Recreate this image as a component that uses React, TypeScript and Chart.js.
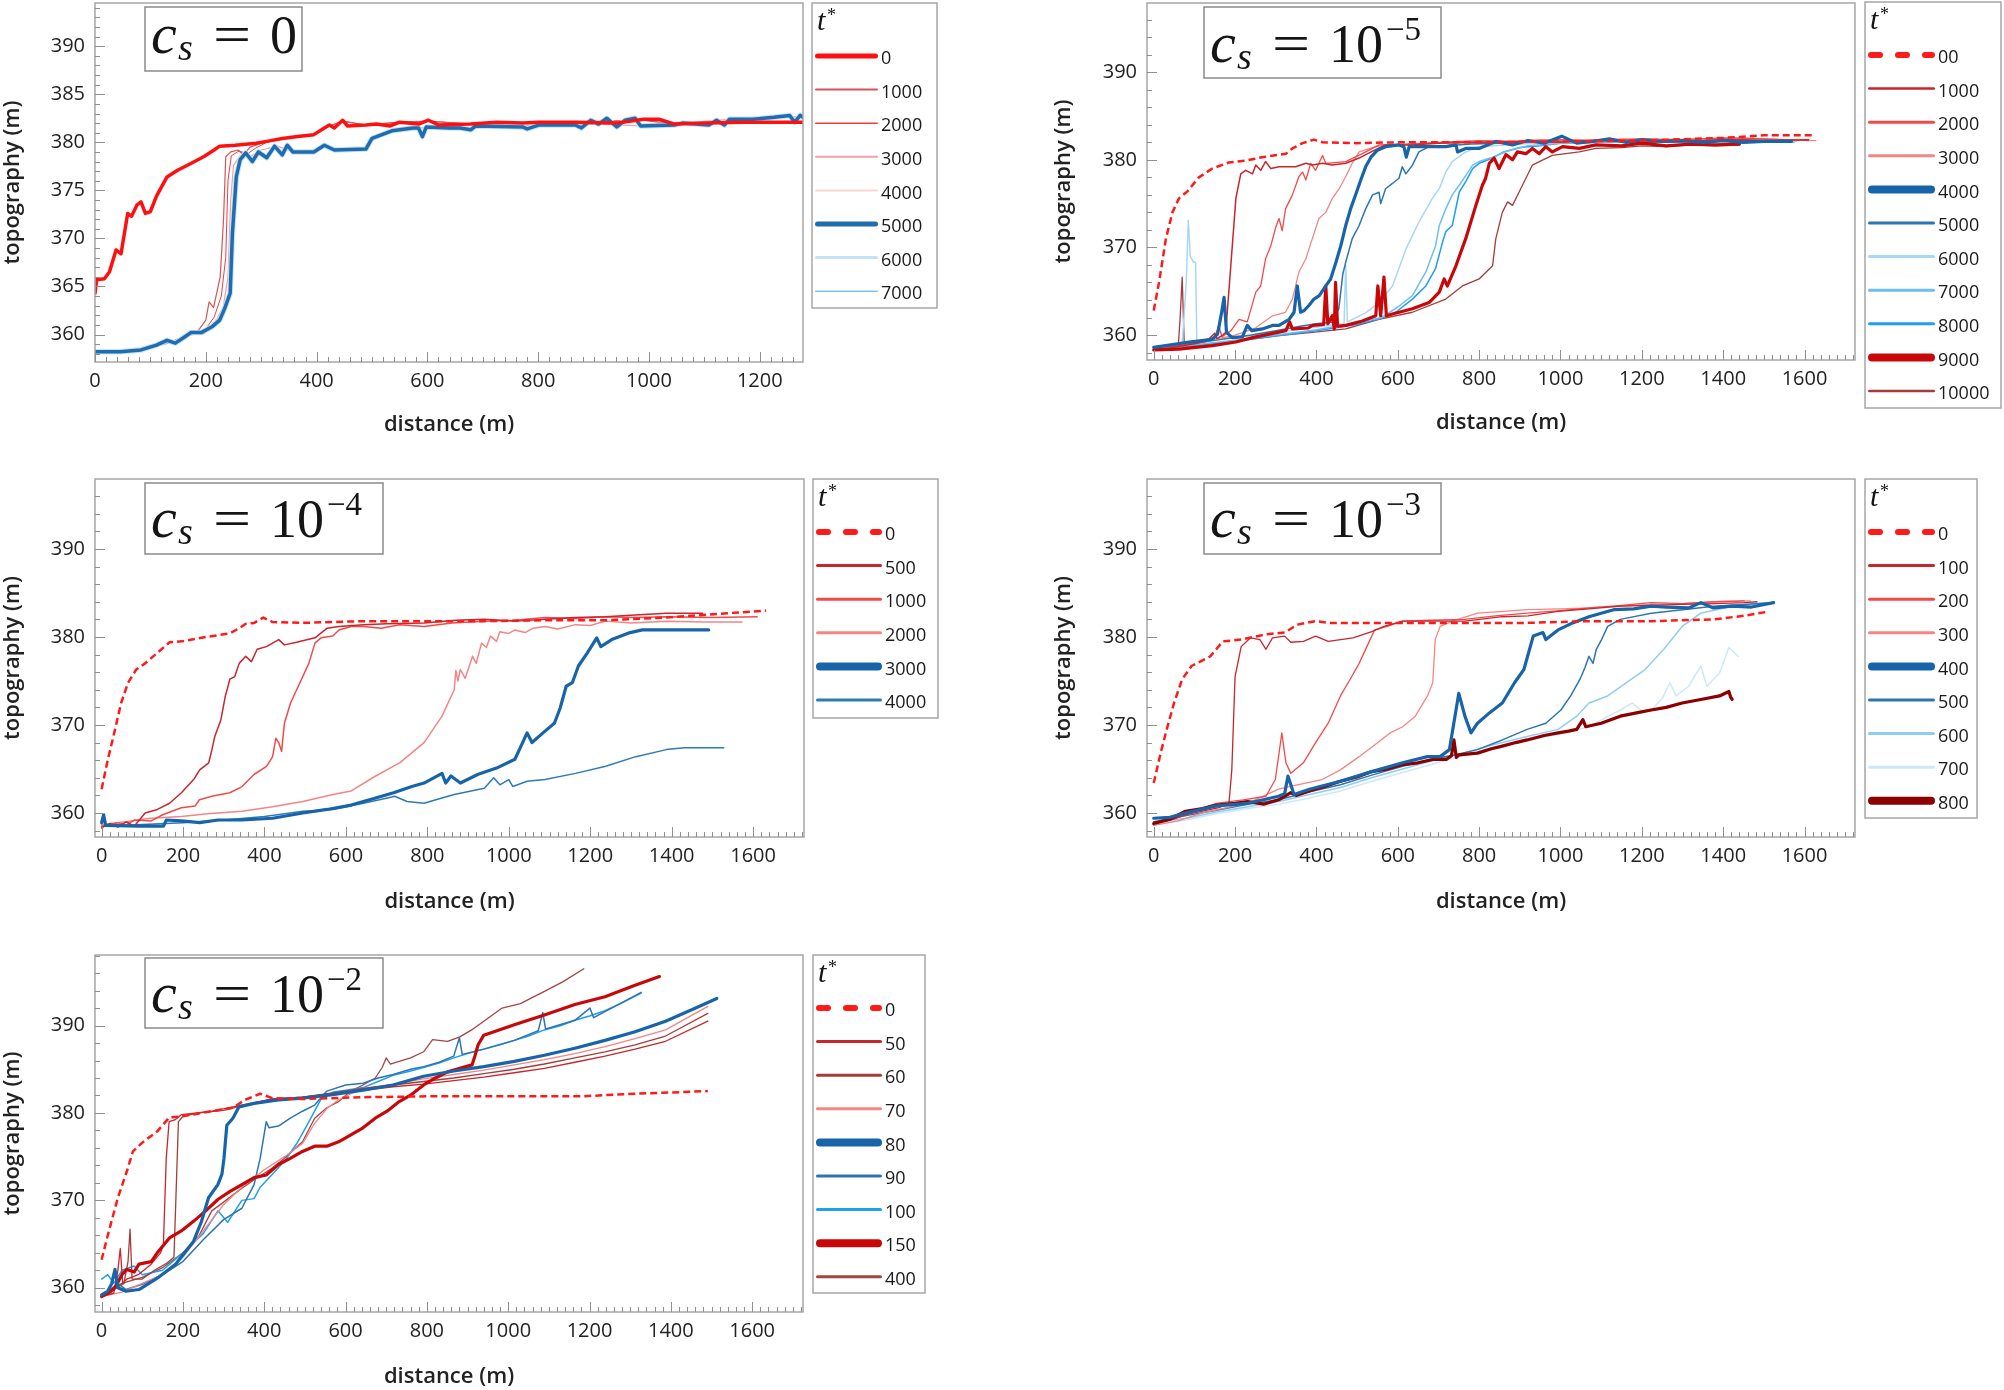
import React, { useEffect, useRef } from "react";
import { Chart, registerables } from "chart.js";

Chart.register(...registerables);

type Pt = [number, number];

// tick values
const xTicksP1 = [0, 200, 400, 600, 800, 1000, 1200];
const yTicksP1 = [360, 365, 370, 375, 380, 385, 390];
const xTicks = [0, 200, 400, 600, 800, 1000, 1200, 1400, 1600];
const yTicks = [360, 370, 380, 390];

// ---- c_s = 0 ----
const p1_t0: Pt[] = [[0,364.3],[3,365.7],[17,365.8],[26,366.5],[38,368.8],[47,368.4],[59,372.6],[66,372.3],[76,373.5],[83,373.8],[91,372.6],[100,372.8],[111,374.4],[130,376.4],[149,377.1],[173,377.8],[196,378.5],[215,379.2],[225,379.6],[253,379.7],[291,379.9],[310,380.1],[338,380.4],[366,380.6],[395,380.8],[414,381.5],[423,381.8],[432,381.5],[447,382.3],[456,381.7],[489,381.8],[508,381.9],[532,381.7],[550,382.1],[584,381.9],[602,382.3],[621,381.8],[678,381.9],[725,382.1],[772,382.0],[801,382.1],[867,382.1],[942,382.0],[990,382.4],[1018,382.4],[1046,381.9],[1103,382.0],[1170,382.1],[1278,382.1]];
const p1_t1000: Pt[] = [[0,358.2],[60,358.3],[110,358.8],[140,359.3],[160,359.8],[185,360.3],[200,361.5],[206,363.4],[214,362.8],[226,366],[232,372],[236,378.5],[245,379],[258,379.2],[268,378.7],[280,379.5],[300,379.9],[338,380.4],[366,380.6],[395,380.8],[414,381.5],[447,382.2],[489,381.8],[550,382.1],[602,382.2],[678,381.9],[772,382],[867,382.1],[990,382.3],[1046,381.9],[1170,382.1],[1278,382.1]];
const p1_t2000: Pt[] = [[0,358.2],[80,358.4],[120,359],[150,359.4],[175,360.1],[200,360.6],[215,361.8],[228,364],[236,368],[240,376],[246,378.6],[260,379.1],[275,378.8],[290,379.4],[310,380],[338,380.4],[366,380.6],[395,380.8],[414,381.5],[447,382.2],[489,381.8],[550,382.1],[602,382.2],[678,381.9],[772,382],[867,382.1],[990,382.3],[1046,381.9],[1170,382.1],[1278,382.1]];
const p1_t3000: Pt[] = [[0,358.2],[100,358.6],[140,359.2],[160,359.7],[200,360.4],[220,361.6],[232,363],[240,366],[245,374],[250,377.6],[262,378.6],[280,378.5],[300,379.2],[330,379.6],[357,379],[395,379],[414,379.7],[432,379.2],[489,379.3],[500,380.4],[536,381.2],[584,381.5],[640,381.5],[700,381.6],[801,381.8],[909,381.9],[985,381.7],[1060,382],[1145,382.4],[1226,382.6],[1278,382.7]];
const p1_t5000: Pt[] = [[0,358.2],[45,358.2],[83,358.4],[111,358.9],[130,359.4],[145,359.1],[163,359.8],[173,360.2],[192,360.2],[211,360.8],[225,361.5],[234,362.7],[244,364.3],[248,370.5],[255,376.4],[262,378.2],[272,378.9],[284,378.0],[295,379.0],[310,378.4],[324,379.6],[338,378.7],[347,379.7],[357,379.0],[395,379.0],[414,379.7],[432,379.2],[489,379.3],[500,380.4],[536,381.2],[574,381.5],[584,381.5],[591,380.6],[598,381.6],[640,381.5],[659,381.5],[678,381.3],[687,381.7],[772,381.6],[780,381.4],[801,381.8],[867,381.8],[878,381.5],[895,382.3],[909,381.9],[924,382.5],[942,381.6],[957,382.3],[975,382.5],[985,381.7],[1046,381.8],[1060,382.0],[1084,381.9],[1108,381.8],[1122,382.3],[1136,381.8],[1145,382.4],[1188,382.4],[1226,382.6],[1254,382.8],[1263,382.1],[1273,382.8],[1278,382.6]];
const p1_t4000 = p1_t5000;
const p1_t6000 = p1_t5000;
const p1_t7000 = p1_t5000;

// ---- c_s = 1e-5 ----
const p2_t0: Pt[] = [[0,362.8],[13,366],[30,371],[46,374],[62,375.6],[83,376.4],[111,378],[144,379],[185,379.7],[226,379.9],[267,380.3],[325,380.7],[341,381.3],[366,381.9],[394,382.3],[415,382],[500,381.9],[600,382],[800,382],[1000,382.1],[1200,382.2],[1400,382.5],[1500,382.8],[1620,382.8]];
const p2_t1000: Pt[] = [[0,358.3],[30,358.4],[50,358.6],[100,359],[130,359.3],[150,360.2],[155,359.6],[170,360],[177,360.3],[189,367.6],[202,375.6],[214,378.4],[226,378.8],[243,378.4],[251,379.4],[263,378.8],[275,379.8],[288,379],[308,379.2],[349,379.2],[374,379.6],[390,379.4],[415,379.6],[439,379.4],[472,379.6],[505,380.2],[538,381],[570,381.7],[636,381.7],[700,381.9],[800,382],[900,382.1],[1000,382],[1100,382.3],[1200,382],[1300,382.1],[1400,382.3],[1500,382.2],[1610,382.3]];
const p2_t2000: Pt[] = [[0,358.5],[50,358.7],[100,359.1],[150,359.8],[160,361],[168,359.8],[190,360.5],[210,361.8],[230,361.5],[251,364.9],[263,365.6],[275,368.7],[288,370.2],[300,372.3],[308,373.3],[316,371.9],[324,374.4],[341,376],[357,378.1],[366,378.6],[374,377.7],[386,379.6],[398,378.8],[415,380.5],[423,379.6],[472,379.8],[513,380.7],[554,381.7],[620,381.8],[700,382],[800,382.2],[900,382.1],[1000,382.3],[1100,382.2],[1200,382.4],[1300,382.3],[1400,382.5],[1500,382.4],[1610,382.2]];
const p2_t3000: Pt[] = [[0,358.5],[100,359],[200,360],[250,360.8],[292,362.2],[324,362.6],[341,364.1],[357,367.2],[374,368.7],[390,371],[406,373.3],[423,374],[439,375.6],[456,376.7],[472,378.1],[488,379.6],[505,380.9],[538,381.4],[570,381.7],[650,381.8],[750,382.1],[850,382],[950,382.3],[1050,382.1],[1150,382.4],[1250,382.3],[1350,382.4],[1450,382.5],[1550,382.3],[1628,382.2]];
const p2_t4000: Pt[] = [[0,358.6],[46,358.9],[87,359.2],[144,359.5],[157,360.1],[167,362.6],[173,364.3],[179,360.3],[193,359.7],[218,359.8],[230,361.1],[241,360.5],[267,360.7],[292,361.1],[308,361.1],[333,361.8],[345,362.6],[353,365.6],[361,362.6],[370,362.8],[382,363.4],[394,364.1],[407,364.5],[423,365.6],[435,366.4],[448,368.3],[460,370.2],[472,372.5],[484,374.4],[497,376.1],[509,377.7],[521,379.2],[534,380.3],[550,381.1],[570,381.5],[603,381.7],[615,381.5],[621,380.3],[628,381.5],[661,381.5],[718,381.5],[743,381.7],[747,380.9],[767,381.3],[800,381.3],[841,382.1],[882,381.7],[920,382.2],[960,381.9],[1003,382.7],[1040,381.9],[1080,382.1],[1120,382.4],[1160,382],[1200,382.3],[1250,382.1],[1300,382.2],[1350,382],[1400,382.2],[1450,382],[1500,382.1],[1567,382.1]];
const p2_t5000: Pt[] = [[0,358.5],[60,358.8],[120,359.2],[180,359.6],[240,360],[300,360.5],[360,361],[400,361.3],[440,361.5],[455,363],[465,367],[472,368.3],[488,371],[505,372.5],[521,374.4],[538,376],[554,376.3],[558,375],[570,376.7],[587,377.3],[603,377.9],[611,379.2],[620,378.4],[636,379.4],[652,380.9],[677,381.5],[720,381.6],[780,381.8],[850,381.9],[950,382.1],[1050,382.2],[1150,382.1],[1250,382.3],[1350,382.2],[1450,382.3],[1570,382.1]];
const p2_t6000: Pt[] = [[0,358.6],[50,358.8],[70,359],[80,366],[85,373.1],[90,369],[98,368.3],[103,368.3],[106,359.2],[150,359.5],[250,360],[350,360.6],[450,361.2],[468,361.3],[472,368],[476,361.5],[520,362.5],[554,363.7],[587,365.6],[620,369.8],[652,372.9],[685,375.6],[702,376.7],[718,378.6],[734,379.8],[767,380.9],[800,381.5],[900,381.8],[1000,382],[1100,382.1],[1200,382.2],[1300,382.1],[1400,382.3],[1500,382.2],[1580,382.1]];
const p2_t7000: Pt[] = [[0,358.5],[100,358.9],[200,359.4],[300,360],[400,360.6],[500,361.4],[560,362],[600,363.2],[636,364.5],[669,367.2],[693,370.2],[702,372.5],[718,374.4],[734,376],[751,377.1],[767,378.2],[784,379.4],[800,379.8],[833,380.3],[870,381],[920,381.6],[1000,381.9],[1100,382.1],[1200,382],[1300,382.2],[1400,382.1],[1500,382.2],[1575,382]];
const p2_t8000: Pt[] = [[0,358.4],[100,358.8],[200,359.3],[300,359.9],[400,360.5],[500,361.2],[560,361.9],[595,362.6],[636,364.1],[669,365.6],[693,367.6],[710,370.6],[718,371.8],[734,372.5],[751,376.3],[767,377.5],[784,379],[800,379.6],[833,380.2],[860,380.9],[900,381.4],[950,381.6],[1000,381.9],[1100,382],[1200,382.1],[1300,382],[1400,382.2],[1500,382.1],[1572,382]];
const p2_t9000: Pt[] = [[0,358.3],[62,358.4],[144,358.8],[202,359.2],[243,359.7],[284,360.1],[325,360.5],[334,361.5],[341,360.7],[380,360.8],[390,361.1],[418,361.2],[423,365.6],[428,361.3],[439,362.2],[444,360.7],[447,366],[452,361],[472,361.1],[513,361.6],[546,362.2],[551,365.6],[558,362.2],[566,366.6],[572,362.2],[587,362.4],[636,363],[677,363.7],[702,364.9],[714,366.4],[722,365.6],[743,367.9],[767,371],[792,374.8],[808,377.1],[816,377.9],[825,379.6],[837,380.2],[849,379],[866,380.6],[882,380],[894,380.9],[915,380.7],[931,381.3],[948,380.7],[964,381.5],[980,380.9],[1005,381.5],[1046,381.3],[1087,381.7],[1150,381.6],[1200,381.9],[1260,381.6],[1320,381.8],[1380,381.7],[1440,381.8]];
const p2_t10000: Pt[] = [[0,358.3],[60,358.4],[65,362],[70,366.6],[75,359],[85,358.6],[150,358.9],[200,359.3],[250,359.6],[300,359.9],[390,360.3],[472,360.7],[554,361.8],[636,362.6],[718,364.1],[759,365.6],[800,366.4],[833,367.9],[841,371],[857,374],[870,375.2],[882,374.8],[898,376.3],[915,377.9],[931,379.4],[948,379.8],[980,380.5],[1046,380.9],[1087,381.3],[1150,381.4],[1200,381.6],[1260,381.5],[1320,381.7],[1380,381.6],[1440,381.7]];

// ---- c_s = 1e-4 ----
const p3_t0: Pt[] = [[0,362.7],[15,366],[33,369.5],[48,372.5],[65,374.8],[85,376.3],[107,377],[137,378.2],[167,379.4],[196,379.5],[256,380],[315,380.4],[338,381],[354,381.5],[375,381.6],[397,382.2],[420,381.7],[494,381.6],[643,381.8],[800,381.8],[940,381.8],[1089,381.9],[1238,381.9],[1387,382.2],[1536,382.7],[1632,383]];
const p3_t500: Pt[] = [[0,358.3],[20,358.8],[40,358.4],[60,359],[80,358.5],[107,360],[137,360.4],[167,361.1],[196,362.3],[226,363.8],[241,364.9],[263,365.7],[270,367],[278,368.7],[293,370.6],[304,373.3],[315,375.2],[327,375.5],[338,377],[354,377.8],[368,377.2],[382,378.6],[405,378.9],[435,379.7],[449,379.1],[479,379.4],[524,379.9],[554,381],[583,381.2],[643,381.4],[700,381.5],[792,381.6],[870,381.9],[940,382],[1020,381.8],[1089,382],[1160,382.2],[1238,382.3],[1310,382.5],[1387,382.7],[1476,382.7]];
const p3_t1000: Pt[] = [[0,358.5],[40,358.9],[60,358.6],[80,359.2],[122,359.1],[150,359.8],[196,360.6],[230,360.8],[240,361.5],[271,361.9],[315,362.3],[345,363],[375,364.4],[405,365.3],[420,366.4],[428,368.5],[435,368],[442,367],[449,370.2],[464,372.5],[487,374.8],[509,377],[524,379.3],[539,379.9],[568,380.1],[583,380.8],[613,381.2],[643,381.2],[687,381],[732,381.4],[792,381.2],[860,381.6],[940,381.8],[1015,381.9],[1089,382.2],[1160,382.1],[1238,382.3],[1310,382.2],[1387,382.3],[1500,382.2],[1610,382.3]];
const p3_t2000: Pt[] = [[0,358.7],[60,359],[120,359.4],[196,359.6],[260,359.9],[345,360.2],[420,360.7],[494,361.3],[568,362.1],[613,362.5],[673,364.2],[732,365.7],[792,368],[836,371],[866,374],[870,376.2],[875,375],[881,376.3],[893,375.3],[911,377.8],[920,377],[933,379.3],[945,378.8],[955,380.1],[970,379.5],[978,380.6],[1000,380.4],[1015,380.8],[1040,380.5],[1060,381],[1089,381.2],[1120,380.9],[1164,381.4],[1200,381.3],[1238,381.8],[1300,381.6],[1387,381.8],[1480,381.7],[1573,381.7]];
const p3_t3000: Pt[] = [[0,358.9],[5,359.8],[10,358.6],[92,358.5],[152,358.5],[159,359.2],[196,359.1],[241,358.9],[286,359.2],[345,359.2],[420,359.4],[494,360],[554,360.4],[613,360.9],[673,361.7],[717,362.3],[762,363],[792,363.4],[836,364.5],[845,363.4],[858,364.2],[881,363.4],[925,364.4],[970,365.1],[1015,366.1],[1030,367.6],[1045,369.1],[1057,368],[1089,369.3],[1112,370.2],[1126,371.9],[1141,374.4],[1156,374.8],[1171,376.7],[1193,378.2],[1216,379.9],[1226,378.9],[1253,379.7],[1298,380.5],[1328,380.8],[1387,380.8],[1491,380.8]];
const p3_t4000: Pt[] = [[0,358.5],[100,358.7],[200,358.9],[300,359.2],[400,359.6],[494,360.2],[568,360.4],[643,361.1],[702,361.7],[720,361.9],[750,361.3],[792,361.1],[821,361.5],[866,362.1],[940,362.8],[963,364],[978,363.2],[1000,363.8],[1010,363],[1045,363.6],[1089,363.8],[1164,364.5],[1238,365.3],[1312,366.4],[1387,367.2],[1431,367.4],[1528,367.4]];

// ---- c_s = 1e-3 ----
const p4_t0: Pt[] = [[0,363.4],[17,366.8],[32,369.5],[50,372.5],[70,375.2],[93,376.7],[139,377.8],[170,379.5],[215,379.7],[276,380.3],[322,380.5],[353,381.4],[398,381.8],[430,381.6],[612,381.6],[918,381.6],[1070,381.8],[1223,381.8],[1376,382],[1450,382.4],[1513,382.9]];
const p4_t100: Pt[] = [[0,358.9],[40,359.2],[80,359.8],[120,360.2],[160,360.6],[185,361.1],[192,364.9],[200,375.5],[215,378.9],[238,379.9],[261,379.7],[276,378.6],[292,379.9],[322,380.1],[337,379.4],[368,379.5],[398,380.1],[429,379.5],[490,379.9],[536,380.6],[566,381.2],[612,381.8],[700,381.8],[765,381.8],[857,382.3],[920,382.4],[994,382.9],[1070,383.2],[1147,383.5],[1220,383.6],[1299,383.7],[1380,383.8],[1452,383.9],[1483,384]];
const p4_t200: Pt[] = [[0,358.8],[50,359.3],[100,360.2],[154,361.1],[220,361.5],[276,361.9],[299,363.8],[315,369.1],[325,365.7],[337,364.5],[368,365.7],[398,368],[429,370.2],[459,373.3],[483,375.2],[505,377],[528,379.3],[543,380.8],[574,381.2],[612,381.8],[680,381.9],[765,382],[840,382.4],[918,382.7],[1000,383],[1070,383.3],[1150,383.6],[1223,383.9],[1300,383.8],[1380,384],[1452,384.1]];
const p4_t300: Pt[] = [[0,358.6],[60,359.1],[120,360],[180,360.6],[240,361.3],[307,362.7],[353,363.2],[414,363.8],[459,364.9],[505,366.4],[551,368],[581,369.1],[612,369.8],[643,371],[673,373.3],[686,374.8],[692,379.7],[704,381.2],[734,381.8],[796,382.7],[860,382.9],[918,383.1],[1000,383.2],[1070,383.3],[1150,383.5],[1223,383.7],[1300,383.8],[1380,384],[1467,384.1]];
const p4_t400: Pt[] = [[0,359.4],[40,359.5],[78,360],[154,360.8],[231,361.1],[307,361.9],[322,362.2],[330,364.2],[345,362.1],[383,362.7],[459,363.6],[536,364.7],[612,365.7],[673,366.4],[704,366.4],[727,367.2],[750,373.6],[765,371],[780,369.1],[796,370.2],[826,371.4],[857,372.5],[887,374.8],[910,376.3],[933,380.1],[957,380.5],[964,379.7],[994,380.8],[1030,381.6],[1070,382.3],[1100,382.7],[1131,383.1],[1180,383.2],[1223,383.5],[1260,383.4],[1315,383.3],[1345,383.9],[1376,383.3],[1422,383.5],[1470,383.4],[1524,383.9]];
const p4_t500: Pt[] = [[0,359],[80,359.7],[154,360.3],[231,361],[307,361.5],[383,362.4],[459,363.2],[536,364.3],[612,365.3],[689,366.2],[740,366.6],[796,367.2],[857,368.3],[918,369.5],[964,370.2],[1001,371.7],[1025,373.3],[1048,375.2],[1060,376.5],[1070,377.8],[1080,377],[1088,378.6],[1100,379.6],[1116,381.2],[1147,382],[1223,382.7],[1300,383.1],[1376,383.5],[1450,383.7],[1513,383.9]];
const p4_t600: Pt[] = [[0,358.9],[80,359.4],[154,360.1],[231,360.7],[307,361.3],[383,362.1],[459,362.9],[536,364],[612,365],[689,366],[760,366.8],[840,367.8],[918,368.7],[994,369.5],[1040,371],[1070,372.5],[1116,373.3],[1162,374.8],[1208,376.3],[1254,378.6],[1299,381.2],[1345,382.7],[1422,383.5],[1513,383.9]];
const p4_t700: Pt[] = [[0,358.7],[80,359.2],[154,359.9],[231,360.5],[307,361],[383,361.7],[459,362.5],[536,363.6],[612,364.6],[689,365.6],[760,366.5],[840,367.5],[918,368.3],[1000,369],[1070,369.8],[1110,370.8],[1147,371.7],[1177,372.5],[1200,371.6],[1223,371.7],[1250,373],[1269,374.8],[1284,373.3],[1315,374.4],[1345,376.7],[1360,374.4],[1391,375.9],[1414,378.8],[1437,377.8]];
const p4_t800: Pt[] = [[0,358.8],[40,359.3],[78,360.2],[120,360.5],[154,360.9],[200,361.1],[231,361.3],[270,361],[307,361.5],[337,362.3],[350,362],[383,362.5],[420,363],[459,363.6],[500,364.1],[536,364.7],[575,365],[612,365.5],[650,365.7],[689,366.1],[720,366.1],[732,366.5],[738,368.3],[744,366.3],[750,366.6],[796,366.8],[830,367.3],[857,367.6],[890,368],[918,368.3],[960,368.8],[994,369.1],[1020,369.3],[1040,369.5],[1055,370.6],[1062,369.8],[1100,370.2],[1147,371],[1190,371.4],[1223,371.7],[1260,372],[1299,372.5],[1345,372.9],[1391,373.3],[1414,373.8],[1418,373.2],[1422,372.9]];

// ---- c_s = 1e-2 ----
const p5_t0: Pt[] = [[0,363.2],[18,366.5],[40,370.3],[62,373.3],[77,375.6],[100,376.6],[137,377.9],[167,379.5],[196,379.6],[271,380.2],[323,380.6],[353,381.5],[390,382.2],[420,381.7],[494,381.6],[643,381.8],[800,381.9],[940,381.9],[1178,381.9],[1312,382.2],[1491,382.5]];
const p5_t50: Pt[] = [[0,359],[30,359.4],[40,362],[46,364.5],[52,360.5],[62,361],[90,361.5],[122,362.7],[145,364],[152,364.9],[159,374.8],[166,379],[180,379.2],[196,379.8],[271,380.2],[345,380.9],[420,381.6],[494,381.8],[568,382.2],[643,382.6],[717,383],[792,383.3],[866,383.7],[940,384.1],[1015,384.6],[1089,385.1],[1164,385.8],[1238,386.5],[1312,387.3],[1387,388.2],[1491,390.5]];
const p5_t60: Pt[] = [[0,359.2],[30,359.8],[55,360.5],[65,363],[70,366.7],[75,361],[100,361],[130,362],[160,362.8],[178,363.5],[184,372],[189,379],[200,379.6],[240,380],[300,380.3],[345,380.8],[420,381.6],[494,381.8],[568,382.3],[643,382.8],[717,383.2],[792,383.6],[866,384],[940,384.5],[1015,385],[1089,385.6],[1164,386.3],[1238,387],[1312,387.8],[1387,388.8],[1491,391.4]];
const p5_t70: Pt[] = [[0,359],[50,359.5],[100,360.5],[150,361.5],[200,363.5],[250,366.5],[300,369.5],[345,371.5],[400,373.5],[450,375],[494,376.5],[524,378.8],[554,380.5],[583,381.5],[613,382.2],[643,382.8],[717,383.3],[792,383.9],[866,384.4],[940,384.9],[1015,385.5],[1089,386.1],[1164,386.8],[1238,387.6],[1312,388.5],[1387,389.5],[1491,392.2]];
const p5_t80: Pt[] = [[0,359.2],[15,359.6],[25,360.5],[33,362.1],[40,360],[60,359.6],[92,359.8],[137,361.1],[182,362.7],[226,365.3],[245,367.5],[263,370.3],[286,371.8],[296,373],[301,374.8],[308,378.6],[323,379.4],[338,380.7],[375,381.1],[435,381.5],[494,381.7],[568,382.1],[643,382.6],[717,383.2],[792,384.2],[866,384.8],[940,385.3],[1015,385.9],[1089,386.6],[1164,387.4],[1238,388.3],[1312,389.3],[1387,390.5],[1461,392],[1513,393.1]];
const p5_t90: Pt[] = [[0,359],[40,360.5],[60,359.8],[100,360.4],[150,361.5],[200,363],[250,365.5],[300,367.8],[345,369.1],[375,371.8],[390,374.8],[405,379],[412,378.3],[435,378.5],[464,379.4],[494,380.2],[524,380.9],[554,382.5],[600,383.2],[643,383.4],[680,384],[717,384.4],[760,385],[792,385.3],[830,385.8],[866,386.5],[880,388.6],[887,386.7],[940,387.3],[1015,388.3],[1074,389.4],[1085,391.5],[1092,389.6],[1164,390.6],[1201,392],[1210,390.9],[1238,391.6],[1327,393.8]];
const p5_t100: Pt[] = [[0,361],[15,361.5],[30,360.5],[50,362],[80,362.5],[100,361.5],[150,362],[200,364],[250,366.2],[286,368.8],[310,367.5],[345,370],[375,370.2],[390,371.5],[420,373],[450,374.5],[480,376.5],[510,379],[540,381.6],[570,382.4],[600,382.6],[643,382.9],[680,383.6],[717,384.3],[760,384.8],[792,385.2],[830,385.7],[866,386.3],[900,386.8],[940,387.3],[980,387.8],[1015,388.3],[1050,388.8],[1089,389.5],[1130,390],[1164,390.6],[1200,391.1],[1238,391.7],[1280,392.6],[1327,393.7]];
const p5_t150: Pt[] = [[0,359],[20,359.5],[33,360],[50,361.5],[62,362.1],[80,361.8],[92,362.7],[122,363],[137,364],[167,365.7],[196,366.5],[226,367.6],[256,368.8],[286,370.1],[315,371],[345,371.8],[375,372.6],[405,372.9],[435,374.1],[464,374.8],[494,375.6],[524,376.2],[554,376.2],[583,376.7],[613,377.5],[643,378.3],[673,379.4],[702,380.2],[732,381.3],[762,382.1],[792,383.2],[821,384],[851,384.7],[881,385.1],[911,385.5],[918,386.5],[926,387.8],[940,388.9],[1015,390.1],[1089,391.2],[1164,392.4],[1238,393.3],[1312,394.6],[1372,395.6]];
const p5_t400: Pt[] = [[0,359.2],[50,360.5],[100,361.2],[150,362.3],[200,364],[240,366],[271,368.8],[300,369.8],[345,371.4],[380,372.5],[420,373.7],[449,374.8],[494,376.7],[524,379.4],[554,380.6],[583,381.3],[613,382.5],[643,383.2],[673,384],[690,385.2],[700,386.3],[710,385.6],[732,385.9],[760,386.3],[792,387],[814,388.4],[851,388.2],[881,388.7],[910,389.5],[940,390.5],[985,392],[1030,392.5],[1089,393.9],[1134,395],[1186,396.5]];

type Line = { label: string; color: string; width: number; lw: number; dashed?: boolean; z: number; data: Pt[] };
type Rect = { l: number; t: number; r: number; b: number };
type PanelCfg = {
  canvas: { x: number; y: number; w: number; h: number };
  plot: Rect;
  xr: [number, number];
  yr: [number, number];
  xt: number[];
  yt: number[];
  xMinor: number;
  yMinor: number;
  yTitlePad: number;
  xTitlePad: number;
  box: Rect;
  base: number;
  csMain: string;
  csSup: string;
  legend: Rect;
  legendLine: number;
  lines: Line[];
};

const DARK = "#c8262c", MID = "#f24a4a", LIGHT = "#f48585", BLUE = "#1765a8", BLUE2 = "#2d74b3";

const panels: PanelCfg[] = [
  {
    canvas: { x: 0, y: 0, w: 945, h: 445 },
    plot: { l: 95, t: 3, r: 803, b: 362 },
    xr: [0, 1278], yr: [357.14, 394.5], xt: xTicksP1, yt: yTicksP1, xMinor: 20, yMinor: 1,
    yTitlePad: 0, xTitlePad: 7,
    box: { l: 145, t: 7, r: 302, b: 71 }, base: 46, csMain: "0", csSup: "",
    legend: { l: 812, t: 3, r: 937, b: 308 }, legendLine: 66,
    lines: [
      { label: "0", color: "#ff1010", width: 3.5, lw: 5, z: 0, data: p1_t0 },
      { label: "1000", color: "#d25656", width: 1.2, lw: 2, z: 3, data: p1_t1000 },
      { label: "2000", color: "#f23c3c", width: 1, lw: 1.5, z: 3, data: p1_t2000 },
      { label: "3000", color: "#f2a0a0", width: 1.2, lw: 2, z: 3, data: p1_t3000 },
      { label: "4000", color: "#fbd4d4", width: 1.2, lw: 2, z: 3, data: p1_t4000 },
      { label: "5000", color: "#1f6cae", width: 3.5, lw: 5, z: 1, data: p1_t5000 },
      { label: "6000", color: "#c4e2f8", width: 5.5, lw: 3, z: 2, data: p1_t6000 },
      { label: "7000", color: "#3aa6ec", width: 1, lw: 1, z: 2, data: p1_t7000 },
    ],
  },
  {
    canvas: { x: 1030, y: 0, w: 974, h: 445 },
    plot: { l: 1147, t: 3, r: 1855, b: 360 },
    xr: [-16.5, 1724], yr: [357.15, 397.9], xt: xTicks, yt: yTicks, xMinor: 20, yMinor: 2,
    yTitlePad: 21, xTitlePad: 9,
    box: { l: 1204, t: 7, r: 1441, b: 78 }, base: 55, csMain: "10", csSup: "\u22125",
    legend: { l: 1865, t: 2, r: 2001, b: 408 }, legendLine: 70,
    lines: [
      { label: "00", color: "#ff1a1a", width: 2.5, lw: 6, dashed: true, z: 0, data: p2_t0 },
      { label: "1000", color: DARK, width: 1.5, lw: 2.5, z: 2, data: p2_t1000 },
      { label: "2000", color: MID, width: 1.3, lw: 3, z: 2, data: p2_t2000 },
      { label: "3000", color: LIGHT, width: 1.3, lw: 3, z: 2, data: p2_t3000 },
      { label: "4000", color: BLUE, width: 3.2, lw: 8, z: 1, data: p2_t4000 },
      { label: "5000", color: BLUE2, width: 1.5, lw: 3, z: 2, data: p2_t5000 },
      { label: "6000", color: "#a9d7f6", width: 1.5, lw: 3, z: 2, data: p2_t6000 },
      { label: "7000", color: "#6fbef0", width: 1.5, lw: 3, z: 2, data: p2_t7000 },
      { label: "8000", color: "#1f9ff0", width: 1.5, lw: 3, z: 2, data: p2_t8000 },
      { label: "9000", color: "#c80808", width: 3.2, lw: 8, z: 1, data: p2_t9000 },
      { label: "10000", color: "#a43c3c", width: 1.3, lw: 2.5, z: 2, data: p2_t10000 },
    ],
  },
  {
    canvas: { x: 0, y: 470, w: 945, h: 450 },
    plot: { l: 95, t: 479, r: 804, b: 837 },
    xr: [-16.2, 1725], yr: [357.27, 397.95], xt: xTicks, yt: yTicks, xMinor: 20, yMinor: 2,
    yTitlePad: 0, xTitlePad: 5,
    box: { l: 145, t: 483, r: 383, b: 554 }, base: 54, csMain: "10", csSup: "\u22124",
    legend: { l: 813, t: 479, r: 938, b: 718 }, legendLine: 69,
    lines: [
      { label: "0", color: "#ff1a1a", width: 2.5, lw: 6, dashed: true, z: 0, data: p3_t0 },
      { label: "500", color: DARK, width: 1.5, lw: 3, z: 2, data: p3_t500 },
      { label: "1000", color: MID, width: 1.5, lw: 3, z: 2, data: p3_t1000 },
      { label: "2000", color: LIGHT, width: 1.5, lw: 3, z: 2, data: p3_t2000 },
      { label: "3000", color: BLUE, width: 3.2, lw: 8, z: 1, data: p3_t3000 },
      { label: "4000", color: "#2d7ab8", width: 1.5, lw: 3, z: 2, data: p3_t4000 },
    ],
  },
  {
    canvas: { x: 1030, y: 470, w: 974, h: 450 },
    plot: { l: 1147, t: 479, r: 1855, b: 837 },
    xr: [-16.5, 1724], yr: [357.27, 397.95], xt: xTicks, yt: yTicks, xMinor: 20, yMinor: 2,
    yTitlePad: 21, xTitlePad: 5,
    box: { l: 1204, t: 483, r: 1441, b: 554 }, base: 54, csMain: "10", csSup: "\u22123",
    legend: { l: 1865, t: 479, r: 1977, b: 818 }, legendLine: 70,
    lines: [
      { label: "0", color: "#ff1a1a", width: 2.5, lw: 6, dashed: true, z: 0, data: p4_t0 },
      { label: "100", color: DARK, width: 1.3, lw: 3, z: 2, data: p4_t100 },
      { label: "200", color: MID, width: 1.3, lw: 3, z: 2, data: p4_t200 },
      { label: "300", color: LIGHT, width: 1.3, lw: 3, z: 2, data: p4_t300 },
      { label: "400", color: BLUE, width: 3.2, lw: 8, z: 1, data: p4_t400 },
      { label: "500", color: BLUE2, width: 1.5, lw: 3, z: 2, data: p4_t500 },
      { label: "600", color: "#8fcdf2", width: 1.5, lw: 3, z: 2, data: p4_t600 },
      { label: "700", color: "#cfe8f9", width: 1.5, lw: 3, z: 2, data: p4_t700 },
      { label: "800", color: "#8c0000", width: 3.2, lw: 8, z: 1, data: p4_t800 },
    ],
  },
  {
    canvas: { x: 0, y: 945, w: 945, h: 445 },
    plot: { l: 95, t: 955, r: 803, b: 1312 },
    xr: [-16.2, 1725], yr: [357.23, 398.07], xt: xTicks, yt: yTicks, xMinor: 20, yMinor: 2,
    yTitlePad: 0, xTitlePad: 0,
    box: { l: 145, t: 958, r: 383, b: 1028 }, base: 54, csMain: "10", csSup: "\u22122",
    legend: { l: 813, t: 955, r: 925, b: 1293 }, legendLine: 69,
    lines: [
      { label: "0", color: "#ff1a1a", width: 2.5, lw: 6, dashed: true, z: 0, data: p5_t0 },
      { label: "50", color: DARK, width: 1.3, lw: 3, z: 2, data: p5_t50 },
      { label: "60", color: "#a43c3c", width: 1.3, lw: 3, z: 2, data: p5_t60 },
      { label: "70", color: LIGHT, width: 1.3, lw: 3, z: 2, data: p5_t70 },
      { label: "80", color: BLUE, width: 3.2, lw: 8, z: 1, data: p5_t80 },
      { label: "90", color: BLUE2, width: 1.5, lw: 3, z: 2, data: p5_t90 },
      { label: "100", color: "#1f9ff0", width: 1.5, lw: 3, z: 2, data: p5_t100 },
      { label: "150", color: "#c80808", width: 3.2, lw: 8, z: 1, data: p5_t150 },
      { label: "400", color: "#a44444", width: 1.3, lw: 3, z: 2, data: p5_t400 },
    ],
  },
];

const SERIF = '"Liberation Serif", "DejaVu Serif", serif';
const SANS = '"Open Sans", "DejaVu Sans", sans-serif';

function drawDecor(chart: any, cfg: PanelCfg) {
  const { ctx, chartArea: a, scales } = chart;
  const xs = scales.x, ys = scales.y;
  const ox = cfg.canvas.x, oy = cfg.canvas.y;
  ctx.save();

  // frame
  ctx.strokeStyle = "#a6a6a6";
  ctx.lineWidth = 1.5;
  ctx.strokeRect(a.left, a.top, a.right - a.left, a.bottom - a.top);

  // inward ticks
  ctx.strokeStyle = "#8f8f8f";
  ctx.lineWidth = 1;
  ctx.beginPath();
  const xMajor = cfg.xt[1] - cfg.xt[0];
  for (let i = Math.ceil(cfg.xr[0] / cfg.xMinor); i * cfg.xMinor <= cfg.xr[1]; i++) {
    const v = i * cfg.xMinor;
    const px = Math.round(xs.getPixelForValue(v)) + 0.5;
    const len = Math.abs(v % xMajor) < 1e-6 ? 10 : 5;
    ctx.moveTo(px, a.bottom);
    ctx.lineTo(px, a.bottom - len);
  }
  const yMajor = cfg.yt[1] - cfg.yt[0];
  for (let i = Math.ceil(cfg.yr[0] / cfg.yMinor); i * cfg.yMinor <= cfg.yr[1]; i++) {
    const v = i * cfg.yMinor;
    const py = Math.round(ys.getPixelForValue(v)) + 0.5;
    const len = Math.abs(v % yMajor) < 1e-6 ? 10 : 5;
    ctx.moveTo(a.left, py);
    ctx.lineTo(a.left + len, py);
  }
  ctx.stroke();

  // c_s box
  const b = cfg.box;
  const bl = b.l - ox, bt = b.t - oy;
  ctx.fillStyle = "#ffffff";
  ctx.fillRect(bl, bt, b.r - b.l, b.b - b.t);
  ctx.strokeStyle = "#8a8a8a";
  ctx.lineWidth = 1.5;
  ctx.strokeRect(bl, bt, b.r - b.l, b.b - b.t);
  const base = bt + cfg.base;
  ctx.fillStyle = "#151515";
  ctx.textAlign = "left";
  ctx.textBaseline = "alphabetic";
  ctx.font = `italic 58px ${SERIF}`;
  ctx.fillText("c", bl + 6, base);
  ctx.font = `italic 38px ${SERIF}`;
  ctx.fillText("s", bl + 33, base + 7);
  ctx.save();
  ctx.translate(bl + 68, base - 1);
  ctx.scale(1.3, 1);
  ctx.font = `52px ${SERIF}`;
  ctx.fillText("=", 0, 0);
  ctx.restore();
  ctx.font = `54px ${SERIF}`;
  ctx.fillText(cfg.csMain, bl + 125, base);
  if (cfg.csSup) {
    ctx.font = `33px ${SERIF}`;
    ctx.fillText(cfg.csSup, bl + 182, base - 22);
  }

  // legend
  const L = cfg.legend;
  const ll = L.l - ox, lt = L.t - oy;
  ctx.fillStyle = "#ffffff";
  ctx.fillRect(ll, lt, L.r - L.l, L.b - L.t);
  ctx.strokeStyle = "#a6a6a6";
  ctx.lineWidth = 1.5;
  ctx.strokeRect(ll, lt, L.r - L.l, L.b - L.t);
  ctx.fillStyle = "#151515";
  ctx.font = `italic 30px ${SERIF}`;
  ctx.fillText("t", ll + 5, lt + 27);
  ctx.font = `18px ${SERIF}`;
  ctx.fillText("*", ll + 15, lt + 18);
  cfg.lines.forEach((s, i) => {
    const y = lt + 53 + i * 33.6;
    ctx.save();
    ctx.strokeStyle = s.color;
    ctx.lineWidth = s.lw;
    ctx.lineCap = "round";
    ctx.setLineDash(s.dashed ? [9, 18] : []);
    ctx.beginPath();
    ctx.moveTo(ll + 3 + s.lw / 2, y);
    ctx.lineTo(ll + cfg.legendLine - s.lw / 2, y);
    ctx.stroke();
    ctx.restore();
    ctx.fillStyle = "#1a1a1a";
    ctx.font = `18px ${SANS}`;
    ctx.textBaseline = "middle";
    ctx.fillText(s.label, ll + cfg.legendLine + 3, y + 3);
    ctx.textBaseline = "alphabetic";
  });

  ctx.restore();
}

function Panel({ cfg }: { cfg: PanelCfg }) {
  const ref = useRef<HTMLCanvasElement>(null);
  const c = cfg.canvas, p = cfg.plot;

  useEffect(() => {
    const el = ref.current;
    if (!el) return;
    const tickFont = { family: SANS, size: 20 };
    const titleFont = { family: SANS, size: 22, weight: 600 as any };
    const chart = new Chart(el, {
      type: "line",
      data: {
        datasets: cfg.lines.map((s) => ({
          label: s.label,
          data: s.data as any,
          borderColor: s.color,
          backgroundColor: s.color,
          borderWidth: s.width,
          borderDash: s.dashed ? [7, 4] : [],
          borderCapStyle: s.dashed ? "butt" : "round",
          borderJoinStyle: "round",
          pointRadius: 0,
          pointHoverRadius: 0,
          tension: 0,
          fill: false,
          order: s.z,
        })),
      },
      options: {
        responsive: false,
        animation: false,
        events: [],
        layout: { padding: { left: 0, top: p.t - c.y, right: c.x + c.w - p.r, bottom: 0 } },
        plugins: { legend: { display: false }, tooltip: { enabled: false } },
        scales: {
          x: {
            type: "linear",
            min: cfg.xr[0],
            max: cfg.xr[1],
            grid: { display: false, drawTicks: false },
            border: { display: false },
            ticks: { padding: 7, font: tickFont, color: "#222", maxRotation: 0, autoSkip: false, callback: (v: any) => String(v) },
            afterBuildTicks: (ax: any) => { ax.ticks = cfg.xt.map((v) => ({ value: v })); },
            afterFit: (ax: any) => {
              ax.height = c.y + c.h - p.b;
              ax.paddingLeft = 0;
              ax.paddingRight = 0;
            },
            title: { display: true, text: "distance (m)", font: titleFont, color: "#222", padding: { top: 0, bottom: cfg.xTitlePad } },
          },
          y: {
            type: "linear",
            min: cfg.yr[0],
            max: cfg.yr[1],
            grid: { display: false, drawTicks: false },
            border: { display: false },
            ticks: { padding: 10, font: tickFont, color: "#222", autoSkip: false, callback: (v: any) => String(v) },
            afterBuildTicks: (ax: any) => { ax.ticks = cfg.yt.map((v) => ({ value: v })); },
            afterFit: (ax: any) => {
              ax.width = p.l - c.x;
              ax.paddingTop = 0;
              ax.paddingBottom = 0;
            },
            title: { display: true, text: "topography (m)", font: titleFont, color: "#222", padding: { top: cfg.yTitlePad, bottom: 0 } },
          },
        },
      },
      plugins: [{ id: "decor", afterDraw: (ch: any) => drawDecor(ch, cfg) }],
    } as any);
    return () => chart.destroy();
  }, [cfg]);

  return (
    <canvas
      ref={ref}
      width={c.w}
      height={c.h}
      style={{ position: "absolute", left: c.x, top: c.y, width: c.w, height: c.h }}
    />
  );
}

export default function App() {
  return (
    <div style={{ position: "absolute", left: 0, top: 0, width: 2004, height: 1390, background: "#fff", overflow: "hidden" }}>
      {panels.map((cfg, i) => (
        <Panel key={i} cfg={cfg} />
      ))}
    </div>
  );
}
